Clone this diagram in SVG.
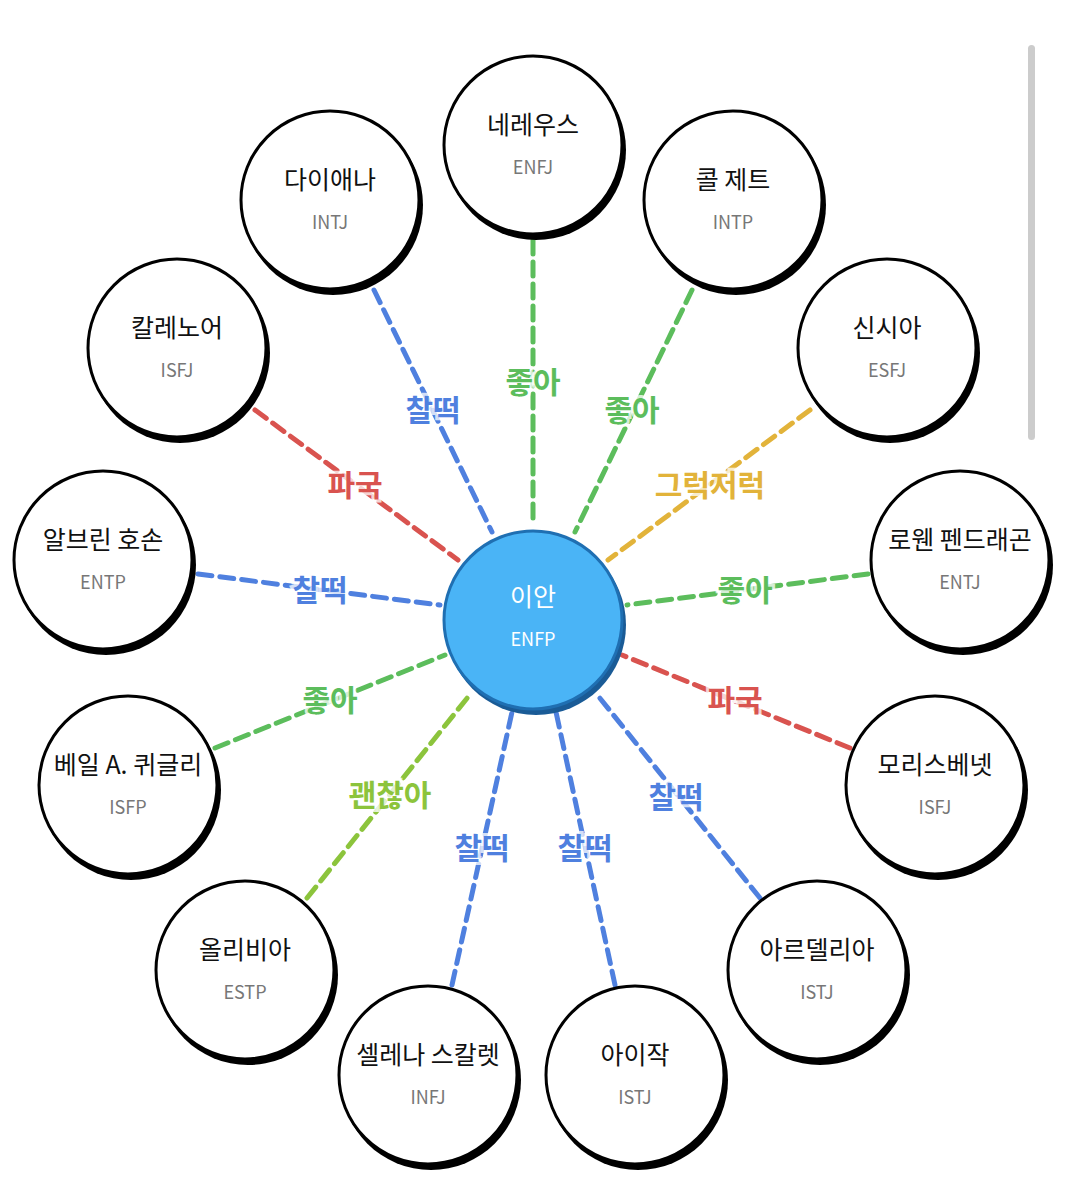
<svg xmlns="http://www.w3.org/2000/svg" width="1067" height="1200" viewBox="0 0 1067 1200">
<style>
text{font-family:"Noto Sans CJK KR","Noto Sans",sans-serif;text-anchor:middle}
.sh{fill:#000}
.nd{fill:#fff;stroke:#000;stroke-width:3}
.nm{font-size:25px;fill:#111}
.tp{font-size:18px;fill:#777}
.e{stroke-width:5;stroke-dasharray:14 8;fill:none;stroke-linecap:round}
.b{stroke:#4f80df}.g{stroke:#5cbd5c}.r{stroke:#d9534f}.y{stroke:#e2b33a}.lg{stroke:#8cc43c}
.l{font-size:30px;font-weight:bold;paint-order:stroke;stroke:#fff;stroke-width:6;stroke-opacity:.75}
.fb{fill:#4f80df}.fg{fill:#5cbd5c}.fr{fill:#d9534f}.fy{fill:#e2b33a}.flg{fill:#8cc43c}
</style>
<rect width="1067" height="1200" fill="#fff"/>
<rect x="1028" y="45" width="7" height="395" rx="3.5" fill="#ccc"/>
<g id="connectors">
<line class="e g" x1="533" y1="240" x2="533" y2="525"/>
<line class="e g" x1="692" y1="290" x2="575" y2="532"/>
<line class="e y" x1="810" y1="410" x2="608" y2="560"/>
<line class="e g" x1="868" y1="574" x2="627" y2="605"/>
<line class="e r" x1="850" y1="748" x2="622" y2="655"/>
<line class="e b" x1="760" y1="898" x2="595" y2="692"/>
<line class="e b" x1="615" y1="985" x2="556" y2="712"/>
<line class="e b" x1="452" y1="985" x2="512" y2="712"/>
<line class="e lg" x1="307" y1="898" x2="472" y2="692"/>
<line class="e g" x1="215" y1="748" x2="445" y2="655"/>
<line class="e b" x1="198" y1="574" x2="440" y2="605"/>
<line class="e r" x1="255" y1="410" x2="458" y2="560"/>
<line class="e b" x1="374" y1="290" x2="492" y2="532"/>
<text class="l fg" x="533" y="393">좋아</text>
<text class="l fg" x="632" y="421">좋아</text>
<text class="l fy" x="710" y="496">그럭저럭</text>
<text class="l fg" x="745" y="601">좋아</text>
<text class="l fr" x="735" y="711">파국</text>
<text class="l fb" x="676" y="808">찰떡</text>
<text class="l fb" x="585" y="859">찰떡</text>
<text class="l fb" x="482" y="859">찰떡</text>
<text class="l flg" x="390" y="806">괜찮아</text>
<text class="l fg" x="330" y="711">좋아</text>
<text class="l fb" x="320" y="601">찰떡</text>
<text class="l fr" x="355" y="496">파국</text>
<text class="l fb" x="433" y="421">찰떡</text>
</g>
<g id="center"><circle cx="536" cy="625" r="90" fill="#1a5b96"/><circle cx="533" cy="620" r="89" fill="#4ab4f6" stroke="#1f6fb2" stroke-width="3"/><text x="533" y="606" font-size="25" fill="#fff">이안</text><text x="533" y="646" font-size="18" fill="#fff">ENFP</text></g>
<g id="n1"><circle class="sh" cx="536" cy="150" r="90"/><circle class="nd" cx="533" cy="145" r="89"/><text class="nm" x="533" y="134">네레우스</text><text class="tp" x="533" y="174">ENFJ</text></g>
<g id="n2"><circle class="sh" cx="736" cy="205" r="90"/><circle class="nd" cx="733" cy="200" r="89"/><text class="nm" x="733" y="189">콜 제트</text><text class="tp" x="733" y="229">INTP</text></g>
<g id="n3"><circle class="sh" cx="890" cy="353" r="90"/><circle class="nd" cx="887" cy="348" r="89"/><text class="nm" x="887" y="337">신시아</text><text class="tp" x="887" y="377">ESFJ</text></g>
<g id="n4"><circle class="sh" cx="963" cy="565" r="90"/><circle class="nd" cx="960" cy="560" r="89"/><text class="nm" x="960" y="549">로웬 펜드래곤</text><text class="tp" x="960" y="589">ENTJ</text></g>
<g id="n5"><circle class="sh" cx="938" cy="790" r="90"/><circle class="nd" cx="935" cy="785" r="89"/><text class="nm" x="935" y="774">모리스베넷</text><text class="tp" x="935" y="814">ISFJ</text></g>
<g id="n6"><circle class="sh" cx="820" cy="975" r="90"/><circle class="nd" cx="817" cy="970" r="89"/><text class="nm" x="817" y="959">아르델리아</text><text class="tp" x="817" y="999">ISTJ</text></g>
<g id="n7"><circle class="sh" cx="638" cy="1080" r="90"/><circle class="nd" cx="635" cy="1075" r="89"/><text class="nm" x="635" y="1064">아이작</text><text class="tp" x="635" y="1104">ISTJ</text></g>
<g id="n8"><circle class="sh" cx="431" cy="1080" r="90"/><circle class="nd" cx="428" cy="1075" r="89"/><text class="nm" x="428" y="1064">셀레나 스칼렛</text><text class="tp" x="428" y="1104">INFJ</text></g>
<g id="n9"><circle class="sh" cx="248" cy="975" r="90"/><circle class="nd" cx="245" cy="970" r="89"/><text class="nm" x="245" y="959">올리비아</text><text class="tp" x="245" y="999">ESTP</text></g>
<g id="n10"><circle class="sh" cx="131" cy="790" r="90"/><circle class="nd" cx="128" cy="785" r="89"/><text class="nm" x="128" y="774">베일 A. 퀴글리</text><text class="tp" x="128" y="814">ISFP</text></g>
<g id="n11"><circle class="sh" cx="106" cy="565" r="90"/><circle class="nd" cx="103" cy="560" r="89"/><text class="nm" x="103" y="549">알브린 호손</text><text class="tp" x="103" y="589">ENTP</text></g>
<g id="n12"><circle class="sh" cx="180" cy="353" r="90"/><circle class="nd" cx="177" cy="348" r="89"/><text class="nm" x="177" y="337">칼레노어</text><text class="tp" x="177" y="377">ISFJ</text></g>
<g id="n13"><circle class="sh" cx="333" cy="205" r="90"/><circle class="nd" cx="330" cy="200" r="89"/><text class="nm" x="330" y="189">다이애나</text><text class="tp" x="330" y="229">INTJ</text></g>
</svg>
